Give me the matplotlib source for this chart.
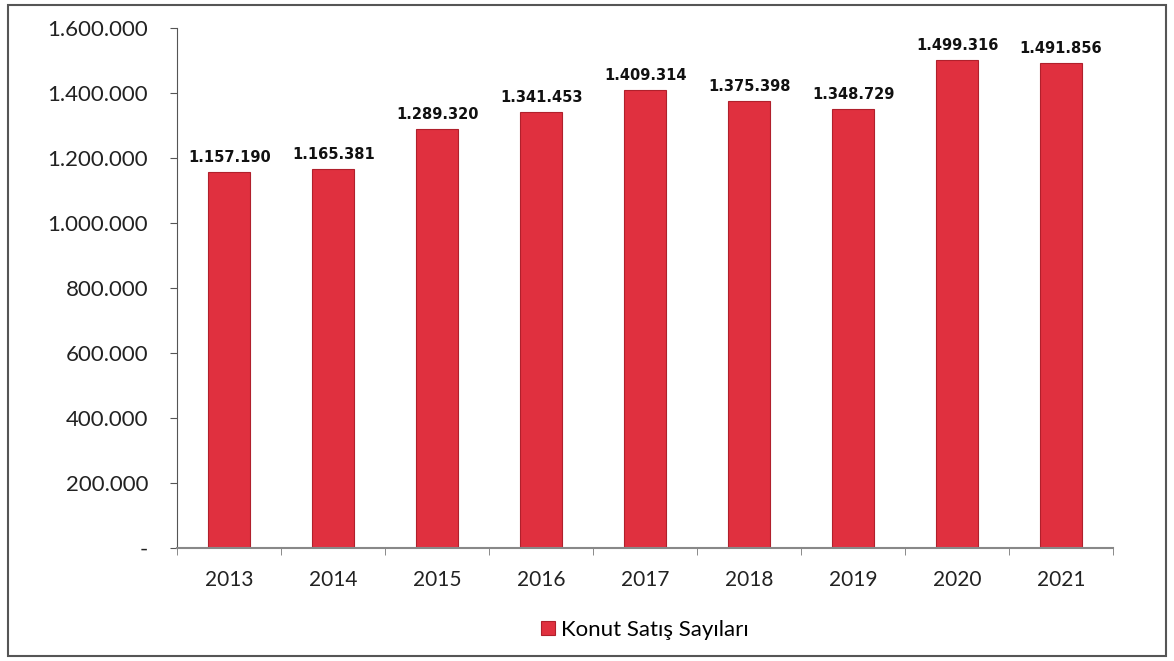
import matplotlib
matplotlib.use("Agg")
import matplotlib.pyplot as plt
from matplotlib.patches import Rectangle
from matplotlib.ticker import FuncFormatter, FixedLocator

years = ["2013", "2014", "2015", "2016", "2017", "2018", "2019", "2020", "2021"]
sales = [1157190, 1165381, 1289320, 1341453, 1409314, 1375398, 1348729, 1499316, 1491856]
series_name = "Konut Satış Sayıları"

plt.rcParams["font.family"] = ["Lato", "DejaVu Sans"]

fig = plt.figure(figsize=(11.74, 6.61), dpi=100)
ax = fig.add_axes([0.151, 0.171, 0.797, 0.787])

# outer frame around the whole chart
fig.patches.append(Rectangle((0.007, 0.008), 0.986, 0.984, transform=fig.transFigure,
                             fill=False, edgecolor="#555555", linewidth=1.5))

x = range(len(years))
bars = ax.bar(x, sales, width=0.4, color="#e0303f", edgecolor="#b0202c",
              linewidth=0.8, label=series_name)

for xi, v in zip(x, sales):
    ax.text(xi, v + 22000, f"{v:,.0f}".replace(",", "."), ha="center", va="bottom",
            fontsize=10.5, fontweight="bold", family="DejaVu Sans", color="#111111")

ax.set_xlim(-0.5, len(years) - 0.5)
ax.set_ylim(0, 1600000)
ax.set_yticks(range(0, 1600001, 200000))
ax.yaxis.set_major_formatter(FuncFormatter(
    lambda v, p: "-" if v == 0 else f"{v:,.0f}".replace(",", ".")))
ax.tick_params(axis="y", labelsize=16, length=5, color="#555555", pad=16, labelcolor="#222222")

ax.set_xticks(list(x))
ax.set_xticklabels(years)
ax.tick_params(axis="x", which="major", length=0, labelsize=15, pad=16, labelcolor="#222222")
ax.xaxis.set_minor_locator(FixedLocator([i - 0.5 for i in range(len(years) + 1)]))
ax.tick_params(axis="x", which="minor", length=5, color="#777777")

for s in ["top", "right"]:
    ax.spines[s].set_visible(False)
ax.spines["left"].set_color("#555555")
ax.spines["bottom"].set_color("#888888")
ax.spines["bottom"].set_linewidth(1.5)

ax.legend(loc="upper center", bbox_to_anchor=(0.5, -0.1), frameon=False, fontsize=16,
          handlelength=0.6, handleheight=0.6, handletextpad=0.3)

fig.savefig("out.png", dpi=100)
